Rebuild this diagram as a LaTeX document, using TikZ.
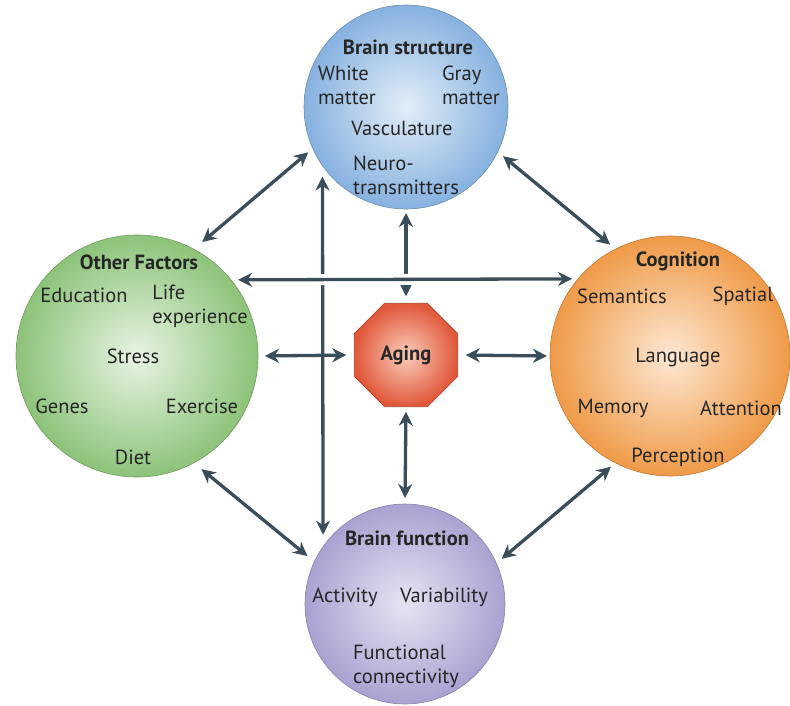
\documentclass[tikz,border=0pt]{standalone}
\usepackage{fontspec}
\setmainfont{PT Sans}
\usepackage{xcolor}
\usepackage{tikz}
\usetikzlibrary{arrows.meta,shapes.geometric}

\definecolor{linkc}{HTML}{3A4D5A}
\definecolor{textc}{HTML}{262626}
\definecolor{structout}{HTML}{86B1DF}
\definecolor{structin}{HTML}{E2EDF8}
\definecolor{otherout}{HTML}{8CC379}
\definecolor{otherin}{HTML}{E8F3E3}
\definecolor{cogout}{HTML}{EF9A47}
\definecolor{cogin}{HTML}{FDE8D4}
\definecolor{funcout}{HTML}{A8A2D1}
\definecolor{funcin}{HTML}{E6E4F2}
\definecolor{agingout}{HTML}{E0573A}
\definecolor{agingin}{HTML}{FACDBB}

\begin{document}
\begin{tikzpicture}[x=1pt,y=-1pt,every node/.style={font=\fontsize{20.5}{24}\selectfont,text=textc},
  bubble/.style 2 args={circle,draw=#1!80!black,line width=0.6pt,inner color=#2,outer color=#1,inner sep=0pt,outer sep=0pt},
  head/.style={font=\fontsize{20.5}{24}\selectfont\bfseries},
  item/.style={align=left,inner sep=0pt},
  link/.style={draw=linkc,line width=3.3pt,{Stealth[length=14pt,width=14pt]}-{Stealth[length=14pt,width=14pt]}}]
  \useasboundingbox (0,0) rectangle (790,705);

  % the four spheres and the octagon in the middle
  \node[bubble={structout}{structin},minimum size=204pt] (struct) at (406,107) {};
  \node[bubble={otherout}{otherin},minimum size=242pt] (other) at (137,356) {};
  \node[bubble={cogout}{cogin},minimum size=240pt] (cog) at (670,356) {};
  \node[bubble={funcout}{funcin},minimum size=200pt] (func) at (405,604) {};
  \node[regular polygon,regular polygon sides=8,minimum size=112pt,inner sep=0pt,outer sep=0pt,
        draw=agingout!75!black,line width=0.6pt,inner color=agingin,outer color=agingout,
        head] (aging) at (406,355) {Aging};

  % headings
  \node[head] (structhead) at (408,47) {Brain structure};
  \node[head] (otherhead) at (139,262) {Other Factors};
  \node[head] (coghead) at (678,261) {Cognition};
  \node[head] (funchead) at (407,538) {Brain function};

  % items inside each sphere
  \foreach \nm/\x/\y/\txt in {white/347/85/White\\matter, gray/471/85/Gray\\matter,
      vasc/402/128/Vasculature, neuro/406/175/Neuro-\\transmitters,
      educ/84/295/Education, life/200/306/Life\\experience, stress/133/356/Stress,
      genes/62/406/Genes, exer/202/406/Exercise, diet/133/457/Diet,
      sem/622/296/Semantics, spat/743/296/Spatial, lang/678/357/Language,
      mem/613/408/Memory, att/741/408/Attention, perc/678/457/Perception,
      act/345/597/Activity, var/444/597/Variability, conn/406/666/Functional\\connectivity}
    \node[item] (\nm) at (\x,\y) {\txt};

  % vertical links go first, the horizontal one crosses over them
  \draw[link,shorten <=4pt,shorten >=7pt] (struct.south) -- (aging.north);
  \draw[link,shorten <=5pt,shorten >=6pt] (aging.south) -- (func.north);
  \draw[link,shorten <=11pt,shorten >=12pt] (struct.215) -- (func.145);
  \draw[link,shorten <=7pt,shorten >=6pt,preaction={draw=white,line width=11pt,-}] (other.39.5) -- (cog.140.5);

  \draw[link,shorten <=7pt,shorten >=8pt] (other.east) -- (aging.west);
  \draw[link,shorten <=8pt,shorten >=3pt] (aging.east) -- (cog.west);
  \draw[link,shorten <=11pt,shorten >=6pt] (other.62.5) -- (struct.204.7);
  \draw[link,shorten <=7pt,shorten >=7pt] (struct.-26) -- (cog.117.6);
  \draw[link,shorten <=10pt,shorten >=9pt] (other.-62.3) -- (func.155);
  \draw[link,shorten <=6pt,shorten >=7pt] (cog.243) -- (func.24.9);
\end{tikzpicture}
\end{document}
